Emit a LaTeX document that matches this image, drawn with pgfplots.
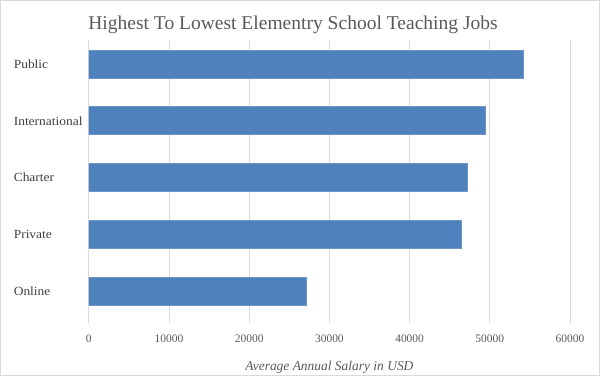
\documentclass[border=0pt]{standalone}
\usepackage{pgfplots}
\pgfplotsset{compat=1.18}
\usepackage{fontspec}
\setmainfont{Liberation Serif}
\newfontfamily\widefont[FakeStretch=1.08]{Liberation Serif}
\definecolor{barblue}{HTML}{4F81BD}
\definecolor{baredge}{HTML}{6E95C8}
\definecolor{gridgray}{HTML}{D9D9D9}
\definecolor{txtgray}{HTML}{595959}
\begin{document}
\begin{tikzpicture}[x=1bp,y=1bp]
\useasboundingbox (0,0) rectangle (600,376);
\draw[gridgray, line width=1bp] (0.5,0.5) rectangle (599.5,375.5);
\node[txtgray, font=\fontsize{19.6}{22}\selectfont] at (293,351) {Highest To Lowest Elementry School Teaching Jobs};
\begin{axis}[
  at={(88.8bp,53bp)}, anchor=south west,
  scale only axis, width=481.2bp, height=283bp,
  xbar, bar width=28bp, bar shift=0pt,
  xmin=0, xmax=60000, ymin=-0.558, ymax=4.423,
  xtick={0,10000,...,60000},
  ytick={0,1,2,3,4},
  yticklabels={Online,Private,Charter,International,Public},
  axis line style={draw=none},
  major tick length=0pt,
  xmajorgrids, major grid style={gridgray, line width=1bp},
  /pgf/number format/assume math mode=true,
  scaled x ticks=false,
  xticklabel={\pgfmathprintnumber[fixed,1000 sep={}]{\tick}},
  tick label style={txtgray, font=\fontsize{11.5}{13}\selectfont},
  xticklabel style={yshift=-8bp},
  yticklabel style={anchor=west, inner sep=0pt, xshift=-75.2bp, text=black!75, font=\widefont\fontsize{12.5}{14}\selectfont},
  xlabel={\itshape Average Annual Salary in USD},
  xlabel style={txtgray, font=\fontsize{13.5}{15}\selectfont, yshift=-12bp},
]
\addplot[fill=barblue, draw=baredge, line width=0.8bp] coordinates {
(27100,0) (46500,1) (47200,2) (49500,3) (54200,4)
};
\end{axis}
\end{tikzpicture}
\end{document}
